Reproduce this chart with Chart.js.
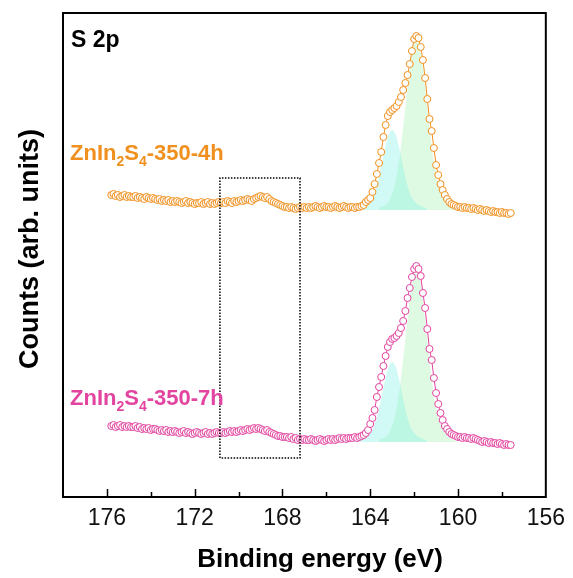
<!DOCTYPE html>
<html>
<head>
<meta charset="utf-8">
<script src="https://cdn.jsdelivr.net/npm/chart.js@4.4.0/dist/chart.umd.min.js"></script>
<style>
  html, body { margin: 0; padding: 0; background: #fff; }
  #wrap { width: 573px; height: 578px; }
</style>
</head>
<body>
<div id="wrap"><canvas id="xpsChart" width="573" height="578"></canvas></div>
<script>
// Spectra sampled every 0.1 eV, starting at 175.8 eV (high -> low binding energy)
const dataStart = 175.8;
const dataStep = 0.1;

const orangeCounts = [
    302, 303, 301, 302, 300, 301, 302, 300, 301, 300,
    300, 301, 299, 300, 299, 298, 300, 299, 298, 299,
    298, 297, 298, 296, 297, 296, 297, 295, 296, 295,
    296, 295, 294, 295, 296, 294, 295, 294, 293, 294,
    294, 295, 293, 294, 295, 293, 294, 293, 294, 295,
    294, 295, 294, 296, 295, 294, 296, 295, 296, 297,
    296, 297, 298, 297, 296, 298, 299, 300, 301, 300,
    299, 300, 298, 296, 295, 294, 293, 292, 291, 290,
    290, 289, 290, 289, 288, 289, 290, 289, 290, 289,
    290, 289, 290, 291, 290, 289, 290, 291, 290, 290,
    289, 290, 291, 290, 289, 290, 291, 290, 289, 290,
    290, 289, 290,
    290, 291, 292, 295, 297, 299, 305, 313, 323, 334,
    345, 360, 372, 381, 385, 387, 389, 391, 395, 400,
    407, 414, 422, 433, 446, 458, 461, 459, 450, 437,
    419, 398, 378, 366, 349, 332, 322, 313, 307, 302,
    298, 295, 293, 292, 291, 290,
    290, 289, 290, 289, 289, 288, 289, 288, 287, 288,
    287, 286, 287, 286, 285, 286, 285, 285, 284, 285,
    284, 284, 283, 284
];

const pinkCounts = [
    71, 72, 70, 71, 72, 70, 71, 70, 71, 70,
    70, 71, 69, 70, 68, 69, 68, 69, 67, 68,
    68, 67, 66, 67, 66, 67, 65, 66, 65, 66,
    65, 64, 65, 66, 64, 65, 64, 63, 64, 65,
    64, 63, 64, 65, 63, 64, 63, 64, 65, 64,
    64, 65, 64, 65, 66, 65, 66, 65, 66, 67,
    66, 67, 68, 67, 68, 69, 68, 69, 68, 67,
    66, 67, 65, 64, 63, 62, 61, 61, 60, 60,
    60, 59, 60, 58, 59, 57, 58, 57, 58, 57,
    57, 58, 57, 56, 57, 58, 57, 56, 57, 58,
    57, 58, 57, 58, 59, 58, 59, 58, 59, 59,
    59, 60, 59,
    60, 61, 62, 64, 67, 73, 79, 87, 100, 110,
    120, 131, 141, 150, 155, 158, 159, 161, 164, 169,
    176, 186, 199, 209, 220, 228, 231, 228, 221, 204,
    189, 168, 148, 137, 119, 104, 93, 84, 77, 71,
    68, 65, 63, 62, 61, 60,
    60, 59, 60, 59, 59, 58, 59, 58, 57, 56,
    55, 56, 55, 54, 55, 54, 54, 53, 54, 53,
    52, 53, 52, 52
];

// Fitted components (S 2p1/2 cyan, S 2p3/2 green)
const cyanStart = 164.6;
const greenStart = 163.6;
const orangeBase = 287;
const pinkBase = 55;

const orangeCyan = [
    288, 289, 290, 291, 292, 294, 296, 299, 304, 311,
    320, 330, 341, 351, 360, 365, 367, 365, 360, 351,
    341, 330, 320, 311, 304, 299, 296, 294, 292, 291,
    290, 289, 288
];
const orangeGreen = [
    289, 290, 291, 292, 294, 298, 303, 310, 321, 334,
    351, 370, 390, 410, 429, 444, 454, 457, 454, 444,
    429, 410, 390, 370, 351, 334, 321, 312, 305, 300,
    296, 293, 291, 290, 289, 288
];
const pinkCyan = [
    56, 57, 58, 59, 60, 62, 64, 67, 72, 79,
    88, 98, 109, 119, 128, 133, 135, 133, 128, 119,
    109, 98, 88, 79, 72, 67, 64, 62, 60, 59,
    58, 57, 56
];
const pinkGreen = [
    57, 58, 59, 60, 62, 66, 71, 78, 89, 102,
    119, 138, 158, 178, 198, 213, 223, 226, 223, 213,
    198, 178, 158, 138, 119, 102, 89, 80, 73, 68,
    64, 61, 59, 58, 57, 56
];

// Dotted selection box
const boxEnergies = [170.85, 170.85, 167.2, 167.2, 170.85];
const boxCounts = [39, 319, 319, 39, 39];

// Axis
const xMin = 156;
const xMax = 178;
const xLabelStep = 4;

const FONT = "'Liberation Sans', Arial, sans-serif";
const ORANGE = '#f0901e';
const PINK = '#e2449f';

function toPoints(start, step, values) {
    return values.map((v, i) => ({ x: +(start - i * step).toFixed(2), y: v }));
}

// Frame, inward ticks and text annotations
const decorations = {
    id: 'decorations',
    afterDraw(chart) {
        const ctx = chart.ctx;
        const area = chart.chartArea;
        const xs = chart.scales.x;

        ctx.save();
        ctx.strokeStyle = '#000';
        ctx.lineWidth = 1.5;
        xs.ticks.forEach(t => {
            if (t.value === xMin || t.value === xMax) return;
            const px = Math.round(xs.getPixelForValue(t.value)) + 0.5;
            const len = (t.value % xLabelStep === 0) ? 8 : 5;
            ctx.beginPath();
            ctx.moveTo(px, area.bottom);
            ctx.lineTo(px, area.bottom - len);
            ctx.stroke();
        });

        ctx.lineWidth = 2;
        ctx.strokeRect(area.left, area.top, area.right - area.left, area.bottom - area.top);

        ctx.fillStyle = '#000';
        ctx.textBaseline = 'alphabetic';
        ctx.textAlign = 'left';
        ctx.font = 'bold 23px ' + FONT;
        ctx.fillText('S 2p', 71, 47);

        drawFormula(ctx, 70, 160, ORANGE, '-350-4h');
        drawFormula(ctx, 70, 405, PINK, '-350-7h');

        ctx.fillStyle = '#000';
        ctx.font = 'bold 26px ' + FONT;
        ctx.textAlign = 'center';
        ctx.fillText('Binding energy (eV)', 320, 567);

        ctx.font = 'bold 27px ' + FONT;
        ctx.translate(38, 249);
        ctx.rotate(-Math.PI / 2);
        ctx.fillText('Counts (arb. units)', 0, 0);
        ctx.restore();
    }
};

function drawFormula(ctx, x, y, color, suffix) {
    const parts = [['ZnIn', false], ['2', true], ['S', false], ['4', true], [suffix, false]];
    ctx.fillStyle = color;
    ctx.textAlign = 'left';
    parts.forEach(([txt, sub]) => {
        ctx.font = sub ? 'bold 14px ' + FONT : 'bold 22px ' + FONT;
        ctx.fillText(txt, x, sub ? y + 6 : y);
        x += ctx.measureText(txt).width;
    });
}

document.addEventListener('DOMContentLoaded', function() {
    const ctx = document.getElementById('xpsChart').getContext('2d');

    const dataStyle = (color) => ({
        showLine: true,
        borderColor: color,
        borderWidth: 1,
        pointRadius: 3.5,
        pointBorderWidth: 1,
        pointBorderColor: color,
        pointBackgroundColor: '#fff',
        tension: 0
    });

    const fitStyle = (fillColor, base) => ({
        showLine: true,
        borderWidth: 0,
        borderColor: 'rgba(0,0,0,0)',
        backgroundColor: fillColor,
        pointRadius: 0,
        cubicInterpolationMode: 'monotone',
        fill: { value: base }
    });

    const cyanFill = 'rgba(120, 240, 230, 0.34)';
    const greenFill = 'rgba(160, 240, 170, 0.34)';

    new Chart(ctx, {
        type: 'scatter',
        data: {
            datasets: [
                {
                    data: boxEnergies.map((e, i) => ({ x: e, y: boxCounts[i] })),
                    showLine: true,
                    borderColor: '#000',
                    borderWidth: 1.5,
                    borderDash: [1.5, 1.5],
                    pointRadius: 0,
                    fill: false
                },
                Object.assign({ data: toPoints(dataStart, dataStep, orangeCounts) }, dataStyle(ORANGE)),
                Object.assign({ data: toPoints(dataStart, dataStep, pinkCounts) }, dataStyle(PINK)),
                Object.assign({ data: toPoints(cyanStart, dataStep, orangeCyan) }, fitStyle(cyanFill, orangeBase)),
                Object.assign({ data: toPoints(greenStart, dataStep, orangeGreen) }, fitStyle(greenFill, orangeBase)),
                Object.assign({ data: toPoints(cyanStart, dataStep, pinkCyan) }, fitStyle(cyanFill, pinkBase)),
                Object.assign({ data: toPoints(greenStart, dataStep, pinkGreen) }, fitStyle(greenFill, pinkBase))
            ]
        },
        options: {
            responsive: false,
            animation: false,
            devicePixelRatio: 1,
            layout: {
                padding: { left: 63, right: 25, top: 13, bottom: 0 }
            },
            plugins: {
                legend: { display: false },
                tooltip: { enabled: false }
            },
            scales: {
                x: {
                    type: 'linear',
                    min: xMin,
                    max: xMax,
                    reverse: true,
                    afterFit: function(scale) { scale.height = 81; },
                    grid: { display: false, drawTicks: false },
                    border: { display: false },
                    ticks: {
                        stepSize: 2,
                        autoSkip: false,
                        maxRotation: 0,
                        padding: 8,
                        color: '#111',
                        font: { family: FONT, size: 23 },
                        callback: function(value) {
                            return value % xLabelStep === 0 ? value : '';
                        }
                    }
                },
                y: {
                    display: false,
                    min: 0,
                    max: 484
                }
            }
        },
        plugins: [decorations]
    });
});
</script>
</body>
</html>
